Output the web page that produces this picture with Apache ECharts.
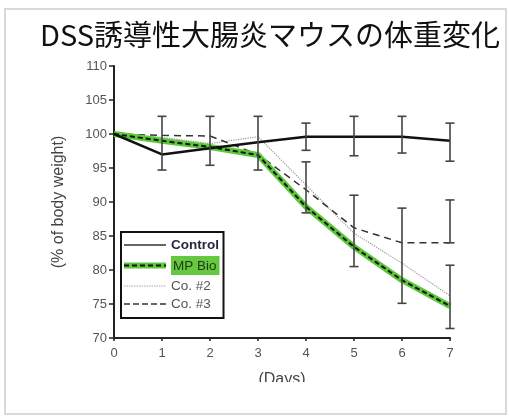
<!DOCTYPE html>
<html><head><meta charset="utf-8">
<script src="https://cdn.jsdelivr.net/npm/echarts@6/dist/echarts.min.js"></script>
<style>html,body{margin:0;padding:0;background:#fff}#c{width:509px;height:419px}</style>
</head><body><div id="c"></div>
<script>
const days = [0, 1, 2, 3, 4, 5, 6, 7];
const yTicks = [70, 75, 80, 85, 90, 95, 100, 105, 110];
const control = [100, 97.0, 97.9, 98.8, 99.6, 99.6, 99.6, 99.0];
const mpBio = [100, 99.0, 98.1, 96.9, 89.3, 83.4, 78.5, 74.7];
const co2 = [100, 99.5, 98.6, 99.6, 92.5, 85.4, 81.0, 76.2];
const co3 = [100, 99.8, 99.7, 97.0, 91.8, 86.2, 84.0, 84.0];
// error bars: [day, low, high]
const controlErr = [[1, 94.7, 102.6], [2, 95.4, 102.6], [3, 94.7, 102.6], [4, 97.6, 101.6], [5, 96.8, 102.6], [6, 97.2, 102.6], [7, 96.0, 101.6]];
const otherErr = [[4, 88.4, 95.9], [5, 80.5, 91.0], [6, 75.1, 89.1], [7, 84.0, 90.3], [7, 71.4, 80.7]];

const pair = arr => arr.map((v, i) => [days[i], v]);
function svgIcon(inner) {
  const s = '<svg xmlns="http://www.w3.org/2000/svg" width="42" height="8">' + inner + '</svg>';
  return 'image://data:image/svg+xml;charset=utf-8,' + encodeURIComponent(s);
}
const iconControl = svgIcon('<line x1="0" y1="4" x2="42" y2="4" stroke="#333" stroke-width="1.6"/>');
const iconMp = svgIcon('<line x1="0" y1="4" x2="42" y2="4" stroke="#5cc83a" stroke-width="6"/><line x1="0" y1="4" x2="42" y2="4" stroke="#111" stroke-width="2" stroke-dasharray="5,3"/>');
const iconCo2 = svgIcon('<line x1="0" y1="4" x2="42" y2="4" stroke="#aaa" stroke-width="1.2" stroke-dasharray="1.5,1"/>');
const iconCo3 = svgIcon('<line x1="0" y1="4" x2="42" y2="4" stroke="#333" stroke-width="1.5" stroke-dasharray="6,3"/>');

function errRender(params, api) {
  const x = api.value(0), lo = api.value(1), hi = api.value(2);
  const p1 = api.coord([x, hi]), p2 = api.coord([x, lo]);
  const w = 4.5;
  const st = { stroke: '#444', lineWidth: 1.6 };
  return { type: 'group', children: [
    { type: 'line', shape: { x1: p1[0], y1: p1[1], x2: p2[0], y2: p2[1] }, style: st },
    { type: 'line', shape: { x1: p1[0] - w, y1: p1[1], x2: p1[0] + w, y2: p1[1] }, style: st },
    { type: 'line', shape: { x1: p2[0] - w, y1: p2[1], x2: p2[0] + w, y2: p2[1] }, style: st }
  ]};
}

const chart = echarts.init(document.getElementById('c'), null, { renderer: 'canvas' });
chart.setOption({
  animation: false,
  backgroundColor: '#fff',
  title: {
    text: 'DSS誘導性大腸炎マウスの体重変化',
    left: 35, top: 15,
    textStyle: { fontFamily: 'Noto Sans CJK JP', fontSize: 29, fontWeight: 'normal', color: '#111' }
  },
  graphic: [
    { type: 'rect', shape: { x: 5, y: 9, width: 501, height: 405 }, style: { fill: 'none', stroke: '#d9d9d9', lineWidth: 2 }, z: 100 },
    { type: 'rect', shape: { x: 250, y: 382, width: 70, height: 14 }, style: { fill: '#fff' }, z: 100 }
  ],
  grid: { left: 114, right: 59, top: 66, bottom: 81 },
  legend: {
    orient: 'vertical', left: 121, top: 232,
    padding: [6, 4, 7, 3],
    borderColor: '#111', borderWidth: 2,
    itemWidth: 42, itemHeight: 8, itemGap: 4,
    data: [
      { name: 'Control', icon: iconControl },
      { name: 'MP Bio', icon: iconMp },
      { name: 'Co. #2', icon: iconCo2 },
      { name: 'Co. #3', icon: iconCo3 }
    ],
    formatter: n => n === 'Control' ? '{b|Control}' : n === 'MP Bio' ? '{h|MP Bio}' : '{n|' + n + '}',
    textStyle: {
      fontFamily: 'Liberation Sans, Arial', fontSize: 13,
      rich: {
        b: { fontFamily: 'Liberation Sans, Arial', fontSize: 13.5, fontWeight: 'bold', color: '#1e2540', lineHeight: 16 },
        h: { fontFamily: 'Liberation Sans, Arial', fontSize: 13.5, color: '#1d3a10', backgroundColor: '#66c840', padding: [3, 3, 2, 2], lineHeight: 16 },
        n: { fontFamily: 'Liberation Sans, Arial', fontSize: 13.5, color: '#555', lineHeight: 16 }
      }
    }
  },
  xAxis: {
    type: 'value', min: 0, max: 7, interval: 1,
    name: '(Days)', nameLocation: 'middle', nameGap: 34,
    nameTextStyle: { fontFamily: 'Liberation Sans, Arial', fontSize: 16, color: '#444' },
    axisLine: { lineStyle: { color: '#222', width: 2 } },
    axisTick: { show: true, length: 3, lineStyle: { color: '#222', width: 1.5 } },
    axisLabel: { margin: 9, fontFamily: 'Liberation Sans, Arial', fontSize: 13, color: '#555',
      formatter: v => days.includes(v) ? String(v) : '' },
    splitLine: { show: false }
  },
  yAxis: {
    type: 'value', min: 70, max: 110, interval: 5,
    name: '(% of body weight)', nameLocation: 'middle', nameGap: 47,
    nameTextStyle: { fontFamily: 'Liberation Sans, Arial', fontSize: 16, color: '#444' },
    axisLine: { show: true, lineStyle: { color: '#222', width: 2 } },
    axisTick: { show: true, length: 5, lineStyle: { color: '#222', width: 1.5 } },
    axisLabel: { margin: 7, fontFamily: 'Liberation Sans, Arial', fontSize: 13, color: '#555',
      formatter: v => yTicks.includes(v) ? String(v) : '' },
    splitLine: { show: false }
  },
  series: [
    { name: 'Co. #2', type: 'line', data: pair(co2), symbol: 'none', z: 3,
      color: '#999', lineStyle: { color: '#999', width: 1.2, type: 'dotted' } },
    { name: 'Co. #3', type: 'line', data: pair(co3), symbol: 'none', z: 3,
      color: '#333', lineStyle: { color: '#333', width: 1.5, type: [7, 5] } },
    { name: 'MP Bio', type: 'line', data: pair(mpBio), symbol: 'none', z: 4,
      color: '#5cc83a', lineStyle: { color: '#5cc83a', width: 6 } },
    { name: 'MP Bio dash', type: 'line', data: pair(mpBio), symbol: 'none', z: 5,
      color: '#111', lineStyle: { color: '#111', width: 2, type: [5, 3] } },
    { name: 'Control', type: 'line', data: pair(control), symbol: 'none', z: 6,
      color: '#111', lineStyle: { color: '#111', width: 2.5 } },
    { name: 'errC', type: 'custom', renderItem: errRender, data: controlErr, z: 7, encode: { x: 0, y: [1, 2] } },
    { name: 'errO', type: 'custom', renderItem: errRender, data: otherErr, z: 7, encode: { x: 0, y: [1, 2] } }
  ]
});
</script></body></html>
